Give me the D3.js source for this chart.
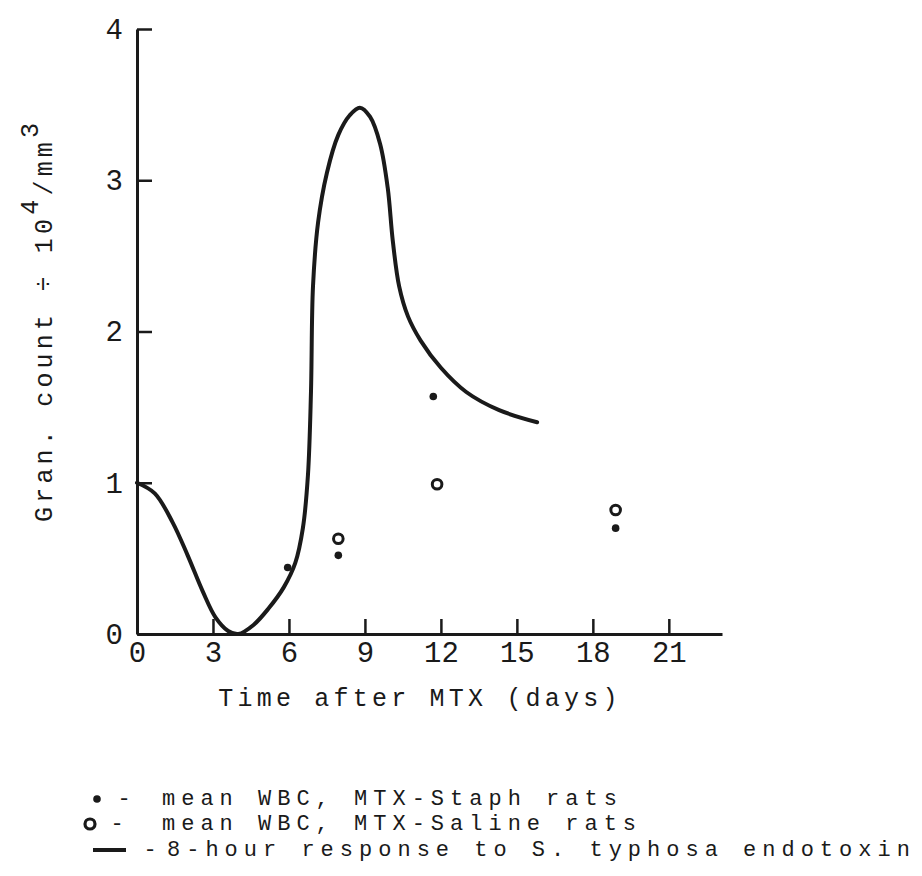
<!DOCTYPE html>
<html>
<head>
<meta charset="utf-8">
<script src="https://cdn.jsdelivr.net/npm/d3@7"></script>
<style>
  body { margin: 0; background: #fff; }
  svg text { font-family: "Liberation Mono", "Courier New", monospace; fill: #1a1a1a; }
</style>
</head>
<body>
<div id="chart"></div>
<script>
// ticks
var xTicks = [0, 3, 6, 9, 12, 15, 18, 21]
var yTicks = [0, 1, 2, 3, 4]

// mean WBC, MTX-Staph rats (filled dots)
var staphDays = [5.95, 7.95, 11.7, 18.9]
var staphVals = [0.44, 0.52, 1.57, 0.70]

// mean WBC, MTX-Saline rats (open circles)
var salineDays = [7.95, 11.85, 18.9]
var salineVals = [0.63, 0.99, 0.82]

// 8-hour response to S. typhosa endotoxin (curve)
var curveDays = [0, 0.7, 1.4, 2.0, 2.6, 3.1, 3.6, 4.0, 4.6, 5.2, 5.8, 6.25, 6.55, 6.75, 6.87, 6.95,
                 7.15, 7.5, 7.95, 8.4, 8.8, 9.2, 9.6, 9.9, 10.1, 10.35, 10.7, 11.2, 12.0, 13.0, 14.3, 15.8]
var curveVals = [1.0, 0.93, 0.74, 0.52, 0.28, 0.11, 0.02, 0.0, 0.06, 0.17, 0.31, 0.47, 0.7, 1.05, 1.6, 2.3,
                 2.72, 3.05, 3.3, 3.43, 3.48, 3.42, 3.24, 2.95, 2.6, 2.3, 2.1, 1.94, 1.76, 1.6, 1.48, 1.40]

var legendText = ["mean WBC, MTX-Staph rats", "mean WBC, MTX-Saline rats", "8-hour response to S. typhosa endotoxin"]

var W = 922, H = 876
var svg = d3.select("#chart").append("svg")
  .attr("width", W).attr("height", H)

var x = d3.scaleLinear().domain([0, 23.1]).range([137, 722])
var y = d3.scaleLinear().domain([0, 4]).range([634, 29])

// axes, ticks pointing inward
svg.append("g")
  .attr("transform", "translate(0," + y(0) + ")")
  .call(d3.axisBottom(x).tickValues(xTicks).tickFormat(d3.format("d"))
    .tickSizeInner(-15).tickSizeOuter(0).tickPadding(7))
svg.append("g")
  .attr("transform", "translate(" + x(0) + ",0)")
  .call(d3.axisLeft(y).tickValues(yTicks).tickFormat(d3.format("d"))
    .tickSizeInner(-15).tickSizeOuter(0).tickPadding(14))

svg.selectAll(".domain").attr("stroke", "#1a1a1a").attr("stroke-width", 3)
svg.selectAll(".tick line").attr("stroke", "#1a1a1a").attr("stroke-width", 2.5)
svg.selectAll(".tick text").style("font-size", "29px").attr("fill", "#1a1a1a")

// axis titles
svg.append("text")
  .attr("x", 420).attr("y", 706)
  .attr("text-anchor", "middle")
  .style("font-size", "25px").style("letter-spacing", "4.2px")
  .text("Time after MTX (days)")

var yt = svg.append("text")
  .attr("transform", "translate(52,522) rotate(-90)")
  .style("font-size", "25px").style("letter-spacing", "4.2px")
yt.append("tspan").text("Gran. count \u00f7 10")
yt.append("tspan").attr("dy", -14).text("4")
yt.append("tspan").attr("dy", 14).text("/mm")
yt.append("tspan").attr("dy", -14).text("3")

// curve
var curveData = curveDays.map(function(d, i) { return [d, curveVals[i]] })
var line = d3.line()
  .x(function(d) { return x(d[0]) })
  .y(function(d) { return y(d[1]) })
  .curve(d3.curveCatmullRom.alpha(0.5))

svg.append("path")
  .datum(curveData)
  .attr("d", line)
  .attr("fill", "none")
  .attr("stroke", "#1a1a1a")
  .attr("stroke-width", 4)
  .attr("stroke-linecap", "round")

// points
svg.selectAll(".staph")
  .data(staphDays)
  .enter().append("circle")
  .attr("class", "staph")
  .attr("cx", function(d) { return x(d) })
  .attr("cy", function(d, i) { return y(staphVals[i]) })
  .attr("r", 3.8)
  .attr("fill", "#1a1a1a")

svg.selectAll(".saline")
  .data(salineDays)
  .enter().append("circle")
  .attr("class", "saline")
  .attr("cx", function(d) { return x(d) })
  .attr("cy", function(d, i) { return y(salineVals[i]) })
  .attr("r", 4.8)
  .attr("fill", "none")
  .attr("stroke", "#1a1a1a")
  .attr("stroke-width", 3)

// legend
var lg = svg.append("g")
var rowY = [805, 830, 856]
lg.append("circle").attr("cx", 97).attr("cy", rowY[0] - 6).attr("r", 3.8).attr("fill", "#1a1a1a")
lg.append("circle").attr("cx", 90).attr("cy", rowY[1] - 6).attr("r", 5).attr("fill", "none")
  .attr("stroke", "#1a1a1a").attr("stroke-width", 3.2)
lg.append("line").attr("x1", 93).attr("x2", 126).attr("y1", rowY[2] - 6).attr("y2", rowY[2] - 6)
  .attr("stroke", "#1a1a1a").attr("stroke-width", 4)

lg.selectAll(".dash")
  .data(rowY)
  .enter().append("text")
  .attr("x", function(d, i) { return [124, 117, 150][i] })
  .attr("y", function(d) { return d })
  .attr("text-anchor", "middle")
  .style("font-size", "22px")
  .text("-")

lg.selectAll(".ltext")
  .data(legendText)
  .enter().append("text")
  .attr("x", function(d, i) { return i == 2 ? 167 : 162 })
  .attr("y", function(d, i) { return rowY[i] })
  .style("font-size", "22px").style("letter-spacing", "6px")
  .text(function(d) { return d })
</script>
</body>
</html>
